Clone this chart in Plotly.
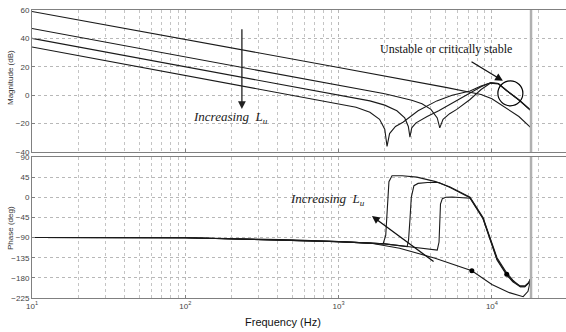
import plotly.graph_objects as go
from plotly.subplots import make_subplots
import math

# ---------------- data ----------------
# Magnitude (dB) curves
freq_mag_A = [10, 100, 1000, 5000, 8500, 10000, 12000, 15000, 18000]
mag_A = [59, 39.5, 19.5, 5.5, 0.5, -2.5, -8, -15, -23]

freq_mag_B = [10, 100, 1000, 2000, 3000, 3500, 4000, 4400, 4570, 4800, 5300, 5900, 7200, 8500, 9800, 11000, 12500, 15000, 18000]
mag_B = [47, 27, 7, 1, -3.5, -6, -10, -16, -23, -17, -13, -10, -3, 4, 8.5, 8, 3, -3.5, -11]

freq_mag_C = [10, 100, 1000, 1600, 2000, 2400, 2700, 2850, 2920, 3000, 3200, 3780, 4500, 5600, 7200, 8500, 9800, 11000, 12500, 15000, 18000]
mag_C = [40, 20, 0, -4, -7, -11, -16, -22, -29.5, -23, -19.5, -15, -11, -5, 1.5, 6, 8.7, 8.2, 3.2, -3.3, -10.8]

freq_mag_D = [10, 100, 1000, 1300, 1600, 1850, 2000, 2070, 2150, 2350, 2630, 3300, 4370, 5500, 7200, 8500, 9800, 11000, 12500, 15000, 18000]
mag_D = [34, 14, -6, -8.5, -12, -17, -24, -36, -27, -22, -19, -11, -4, 0, 3, 6.5, 8.8, 8.3, 3.3, -3.2, -10.7]

# Phase (deg) curves
freq_ph_A = [10, 100, 500, 1000, 1600, 2500, 4260, 7400, 10000, 13000, 16000, 17200, 18000]
ph_A = [-90, -90.5, -95, -99, -102, -114, -136, -164, -195, -213, -222, -210, -180]

freq_ph_B = [10, 100, 1000, 1600, 2000, 2800, 4400, 4520, 4570, 4620, 4750, 5000, 5500, 6200, 7200, 8750, 9700, 10800, 12500, 13700, 15300, 16400, 17400, 18000]
ph_B = [-90, -90.5, -99, -102, -104, -110, -118, -100, -60, -15, -3, 0, 0.5, -0.5, -2, -48, -93, -140, -174, -189, -200, -200, -191, -180]

freq_ph_C = [10, 100, 1000, 1600, 2000, 2800, 2860, 2920, 2980, 3100, 3300, 3800, 4500, 5340, 7200, 8750, 9700, 10800, 12500, 13700, 15300, 16400, 17400, 18000]
ph_C = [-90, -90.5, -99, -102, -104, -110, -95, -50, 0, 26, 31, 33, 33, 22, -1, -47, -92, -138, -172, -187, -198, -198, -190, -180]

freq_ph_D = [10, 100, 1000, 1600, 1950, 2030, 2080, 2130, 2230, 2600, 3240, 4300, 5340, 7200, 8750, 9700, 10800, 12500, 13700, 15300, 16400, 17400, 18000]
ph_D = [-90, -90.5, -99, -102, -104, -85, -20, 35, 48, 48, 45, 35, 23, 0, -45, -90, -135, -169, -185, -200, -200, -192, -180]

# markers
dot_freq_mag = [13200]
dot_mag = [1.3]
dot_freq_ph = [7400, 12500]
dot_ph = [-164, -172]

nyquist_f = 18000

x_tick_vals = [10, 100, 1000, 10000]
x_tick_text = ["10<sup>1</sup>", "10<sup>2</sup>", "10<sup>3</sup>", "10<sup>4</sup>"]
mag_ticks = [-40, -20, 0, 20, 40, 60]
ph_ticks = [-225, -180, -135, -90, -45, 0, 45, 90]

# ---------------- figure ----------------
fig = make_subplots(rows=2, cols=1, shared_xaxes=False, vertical_spacing=0.02)

line_col = "#1a1a1a"
for fx, fy in [(freq_mag_A, mag_A), (freq_mag_B, mag_B), (freq_mag_C, mag_C), (freq_mag_D, mag_D)]:
    fig.add_trace(go.Scatter(x=fx, y=fy, mode="lines", line=dict(color=line_col, width=1.1),
                             showlegend=False, hoverinfo="skip"), row=1, col=1)
for fx, fy in [(freq_ph_A, ph_A), (freq_ph_B, ph_B), (freq_ph_C, ph_C), (freq_ph_D, ph_D)]:
    fig.add_trace(go.Scatter(x=fx, y=fy, mode="lines", line=dict(color=line_col, width=1.1),
                             showlegend=False, hoverinfo="skip"), row=2, col=1)

# Nyquist-like vertical line
fig.add_trace(go.Scatter(x=[nyquist_f, nyquist_f], y=[mag_ticks[0], mag_ticks[-1]], mode="lines",
                         line=dict(color="#b0b0b0", width=2.5), showlegend=False, hoverinfo="skip"), row=1, col=1)
fig.add_trace(go.Scatter(x=[nyquist_f, nyquist_f], y=[ph_ticks[0], ph_ticks[-1]], mode="lines",
                         line=dict(color="#b0b0b0", width=2.5), showlegend=False, hoverinfo="skip"), row=2, col=1)

# circle around unstable region
fig.add_trace(go.Scatter(x=dot_freq_mag, y=dot_mag, mode="markers",
                         marker=dict(symbol="circle-open", size=25, color="black", line=dict(width=1.2)),
                         showlegend=False, hoverinfo="skip"), row=1, col=1)
fig.add_trace(go.Scatter(x=dot_freq_ph, y=dot_ph, mode="markers",
                         marker=dict(symbol="circle", size=5, color="black"),
                         showlegend=False, hoverinfo="skip"), row=2, col=1)

W, H = 566, 332
ml, mr, mt, mb = 32, 0, 10, 34
plot_h = H - mt - mb
top_dom = [(298 - 152) / plot_h, 1.0]
bot_dom = [0.0, (298 - 157) / plot_h]

grid = dict(showgrid=True, gridcolor="#b8b8b8", griddash="dot", gridwidth=1)
minor_vals = [m * 10 ** k for k in range(1, 5) for m in range(2, 10)]

xcommon = dict(type="log", range=[1, 1 + (W - ml) / 153.3], tickvals=x_tick_vals, ticktext=x_tick_text,
               showline=True, linecolor="#808080", linewidth=1, mirror=True, ticks="inside", ticklen=3,
               tickcolor="#808080", zeroline=False,
               minor=dict(tickvals=minor_vals, showgrid=True, gridcolor="#c4c4c4", griddash="dot", ticks=""),
               tickfont=dict(family="Liberation Sans", size=8, color="#444"), **grid)

fig.update_layout(
    width=W, height=H, margin=dict(l=ml, r=mr, t=mt, b=mb),
    paper_bgcolor="white", plot_bgcolor="white",
    xaxis=dict(domain=[0, 1], showticklabels=False, **xcommon),
    xaxis2=dict(domain=[0, 1], showticklabels=True, **xcommon),
    yaxis=dict(domain=top_dom, range=[-40, 60], tickvals=mag_ticks, showline=True, linecolor="#808080",
               mirror=False, ticks="inside", ticklen=3, tickcolor="#808080", zeroline=False,
               tickfont=dict(family="Liberation Sans", size=8, color="#444"), **grid),
    yaxis2=dict(domain=bot_dom, range=[-225, 90], tickvals=ph_ticks, showline=True, linecolor="#808080",
                mirror=False, ticks="inside", ticklen=3, tickcolor="#808080", zeroline=False,
                tickfont=dict(family="Liberation Sans", size=8, color="#444"), **grid),
)

def px_x(px):
    return (px - ml) / (W - ml)

def px_y(py):
    return (H - mb - py) / plot_h

ann = []
# axis titles
ann.append(dict(text="Magnitude (dB)", xref="paper", yref="paper", x=px_x(10), y=px_y(78), textangle=-90,
                showarrow=False, font=dict(family="Liberation Sans", size=8, color="#333"),
                xanchor="center", yanchor="middle"))
ann.append(dict(text="Phase (deg)", xref="paper", yref="paper", x=px_x(10), y=px_y(228), textangle=-90,
                showarrow=False, font=dict(family="Liberation Sans", size=8, color="#333"),
                xanchor="center", yanchor="middle"))
ann.append(dict(text="Frequency (Hz)", xref="paper", yref="paper", x=px_x(283), y=px_y(322),
                showarrow=False, font=dict(family="Liberation Sans", size=11, color="#111"),
                xanchor="center", yanchor="middle"))

serif = "Liberation Serif"
# magnitude: Increasing L_u
ann.append(dict(text="<i>Increasing  L<sub>u</sub></i>", xref="x", yref="y", x=2.04, y=-15.5,
                showarrow=False, xanchor="left", yanchor="middle",
                font=dict(family=serif, size=13, color="#222")))
ann.append(dict(text="", xref="x", yref="y", x=math.log10(234), y=-9.7, axref="x", ayref="y",
                ax=math.log10(234), ay=47.5, showarrow=True, arrowhead=2, arrowsize=1.2, arrowwidth=1.3,
                arrowcolor="#222"))
# unstable annotation
ann.append(dict(text="Unstable or critically stable", xref="x", yref="y", x=math.log10(5000), y=32.7,
                showarrow=False, xanchor="center", yanchor="middle",
                font=dict(family=serif, size=12, color="#111")))
ann.append(dict(text="", xref="x", yref="y", x=math.log10(11800), y=10.1, axref="x", ayref="y",
                ax=math.log10(7200), ay=24.2, showarrow=True, arrowhead=2, arrowsize=1.2, arrowwidth=1.3,
                arrowcolor="#111"))
# phase: Increasing L_u
ann.append(dict(text="<i>Increasing  L<sub>u</sub></i>", xref="x2", yref="y2", x=2.67, y=-6,
                showarrow=False, xanchor="left", yanchor="middle",
                font=dict(family=serif, size=13, color="#222")))
ann.append(dict(text="", xref="x2", yref="y2", x=math.log10(1650), y=-42, axref="x2", ayref="y2",
                ax=math.log10(4260), ay=-146, showarrow=True, arrowhead=2, arrowsize=1.2, arrowwidth=1.3,
                arrowcolor="#111"))

fig.update_layout(annotations=ann)
fig.write_html("out.html")
